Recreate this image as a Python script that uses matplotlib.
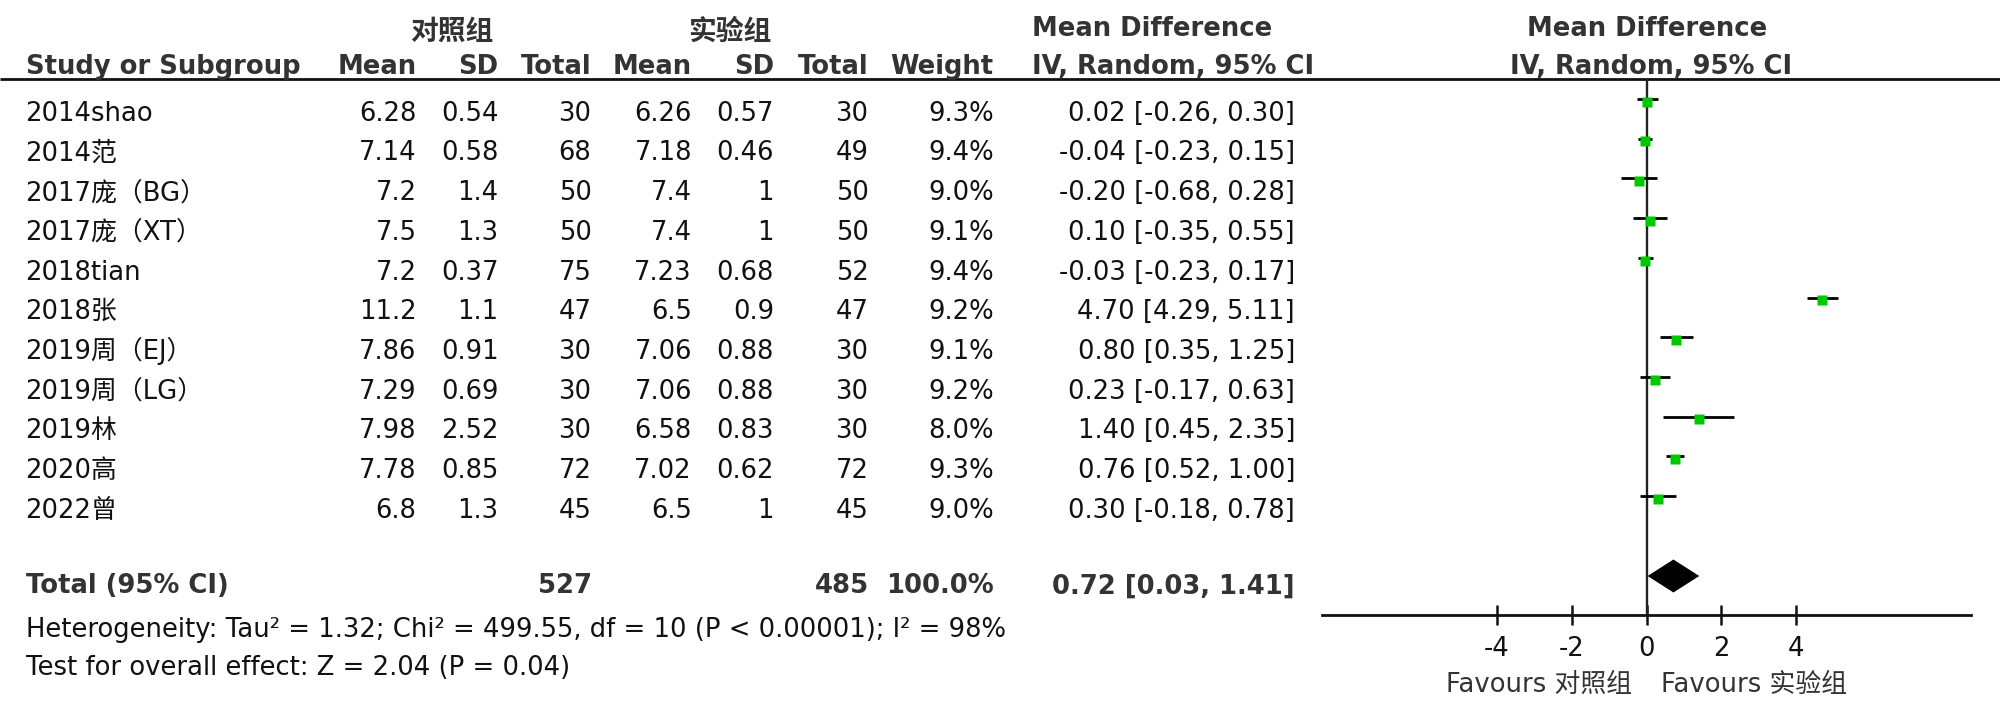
import matplotlib
matplotlib.use("Agg")
import matplotlib.pyplot as plt
import numpy as np

plt.rcParams['font.family'] = ['DejaVu Sans', 'Noto Sans CJK SC']
plt.rcParams['axes.unicode_minus'] = False

# ---------------- data ----------------
studies = ['2014shao', '2014范', '2017庞（BG）', '2017庞（XT）', '2018tian', '2018张',
           '2019周（EJ）', '2019周（LG）', '2019林', '2020高', '2022曾']
ctrl_mean = [6.28, 7.14, 7.2, 7.5, 7.2, 11.2, 7.86, 7.29, 7.98, 7.78, 6.8]
ctrl_sd = [0.54, 0.58, 1.4, 1.3, 0.37, 1.1, 0.91, 0.69, 2.52, 0.85, 1.3]
ctrl_n = [30, 68, 50, 50, 75, 47, 30, 30, 30, 72, 45]
exp_mean = [6.26, 7.18, 7.4, 7.4, 7.23, 6.5, 7.06, 7.06, 6.58, 7.02, 6.5]
exp_sd = [0.57, 0.46, 1, 1, 0.68, 0.9, 0.88, 0.88, 0.83, 0.62, 1]
exp_n = [30, 49, 50, 50, 52, 47, 30, 30, 30, 72, 45]
weight = [9.3, 9.4, 9.0, 9.1, 9.4, 9.2, 9.1, 9.2, 8.0, 9.3, 9.0]
md = [0.02, -0.04, -0.20, 0.10, -0.03, 4.70, 0.80, 0.23, 1.40, 0.76, 0.30]
ci_lo = [-0.26, -0.23, -0.68, -0.35, -0.23, 4.29, 0.35, -0.17, 0.45, 0.52, -0.18]
ci_hi = [0.30, 0.15, 0.28, 0.55, 0.17, 5.11, 1.25, 0.63, 2.35, 1.00, 0.78]
total_ctrl_n = 527
total_exp_n = 485
total_weight = 100.0
total_md, total_lo, total_hi = 0.72, 0.03, 1.41
group_ctrl = '对照组'
group_exp = '实验组'
heterogeneity = 'Heterogeneity: Tau² = 1.32; Chi² = 499.55, df = 10 (P < 0.00001); I² = 98%'
overall = 'Test for overall effect: Z = 2.04 (P = 0.04)'
xticks = [-4, -2, 0, 2, 4]

# ---------------- layout ----------------
W, H = 2000, 715
ROW0, ROWH = 99.0, 39.7          # pixel y of first study row, row pitch


def r(ypx):
    return (ypx - ROW0) / ROWH


FS = 18.6                         # pt
EM = FS * 100 / 72                # px
CAP = 0.729 * EM                  # cap height px


def bl(center_px):
    """baseline row-coordinate for a text whose cap-centre is at center_px"""
    return r(center_px + CAP / 2)


fig = plt.figure(figsize=(W / 100, H / 100), dpi=100)
fig.patch.set_facecolor('white')

ax = fig.add_axes([0, 0, 1, 1])
ax.set_xlim(0, W)
ax.set_ylim(r(H), r(0))
ax.axis('off')

TXT = '#111111'
HDR = '#333333'

# column right edges (px)
c_mean, c_sd, c_n = 416.5, 498.5, 591.5
e_mean, e_sd, e_n = 692.0, 774.0, 868.5
c_w, c_ci = 993.5, 1295.0
x_left = 25.5
x_ci_left = 1032.0

# headers
ax.text(452, r(40), group_ctrl, ha='center', va='baseline', fontsize=20,
        fontweight='bold', color=HDR, family=['Noto Sans CJK SC'])
ax.text(730, r(40), group_exp, ha='center', va='baseline', fontsize=20,
        fontweight='bold', color=HDR, family=['Noto Sans CJK SC'])
ax.text(x_ci_left, bl(26.7), 'Mean Difference', ha='left', va='baseline',
        fontsize=FS, fontweight='bold', color=HDR)
ax.text(1647, bl(26.7), 'Mean Difference', ha='center', va='baseline',
        fontsize=FS, fontweight='bold', color=HDR)

hy = bl(65.0)
ax.text(x_left, hy, 'Study or Subgroup', ha='left', va='baseline', fontsize=FS,
        fontweight='bold', color=HDR)
for x, s in [(c_mean, 'Mean'), (c_sd, 'SD'), (c_n, 'Total'), (e_mean, 'Mean'),
             (e_sd, 'SD'), (e_n, 'Total'), (c_w, 'Weight')]:
    ax.text(x, hy, s, ha='right', va='baseline', fontsize=FS, fontweight='bold', color=HDR)
ax.text(x_ci_left, hy, 'IV, Random, 95% CI', ha='left', va='baseline', fontsize=FS,
        fontweight='bold', color=HDR)
ax.text(1651, hy, 'IV, Random, 95% CI', ha='center', va='baseline', fontsize=FS,
        fontweight='bold', color=HDR)

ax.hlines(r(79), 0, W, color='#111111', lw=2.0)

# study rows
for i, name in enumerate(studies):
    y = bl(111.3) + i
    ax.text(x_left, y, name, ha='left', va='baseline', fontsize=FS, color=TXT)
    vals = [(c_mean, f'{ctrl_mean[i]:g}'), (c_sd, f'{ctrl_sd[i]:g}'), (c_n, f'{ctrl_n[i]}'),
            (e_mean, f'{exp_mean[i]:g}'), (e_sd, f'{exp_sd[i]:g}'), (e_n, f'{exp_n[i]}'),
            (c_w, f'{weight[i]:.1f}%'),
            (c_ci, f'{md[i]:.2f} [{ci_lo[i]:.2f}, {ci_hi[i]:.2f}]')]
    for x, s in vals:
        ax.text(x, y, s, ha='right', va='baseline', fontsize=FS, color=TXT)

# total row
ty = bl(584.0)
ax.text(x_left, ty, 'Total (95% CI)', ha='left', va='baseline', fontsize=FS,
        fontweight='bold', color=HDR)
ax.text(c_n, ty, f'{total_ctrl_n}', ha='right', va='baseline', fontsize=FS,
        fontweight='bold', color=HDR)
ax.text(e_n, ty, f'{total_exp_n}', ha='right', va='baseline', fontsize=FS,
        fontweight='bold', color=HDR)
ax.text(c_w, ty, f'{total_weight:.1f}%', ha='right', va='baseline', fontsize=FS,
        fontweight='bold', color=HDR)
ax.text(c_ci, ty, f'{total_md:.2f} [{total_lo:.2f}, {total_hi:.2f}]', ha='right',
        va='baseline', fontsize=FS, fontweight='bold', color=HDR)

ax.text(x_left, bl(628.0), heterogeneity, ha='left', va='baseline', fontsize=FS, color=TXT)
ax.text(x_left, bl(666.0), overall, ha='left', va='baseline', fontsize=FS, color=TXT)

# ---------------- forest plot ----------------
FX0, FX1 = 1321.7, 1971.3
XLIM = 8.68
axf = fig.add_axes([FX0 / W, 0, (FX1 - FX0) / W, 1])
axf.set_xlim(-XLIM, XLIM)
axf.set_ylim(r(H), r(0))
axf.patch.set_visible(False)
for s in ['top', 'left', 'right']:
    axf.spines[s].set_visible(False)
AXIS_Y = r(615)
axf.spines['bottom'].set_position(('data', AXIS_Y))
axf.spines['bottom'].set_linewidth(2.0)
axf.spines['bottom'].set_color('#111111')
axf.set_yticks([])
axf.set_xticks(xticks)
axf.set_xticklabels([f'{t:d}' for t in xticks])
axf.tick_params(axis='x', direction='inout', length=13.9, width=1.8, color='#111111',
                pad=8.5, labelsize=FS, labelcolor=TXT)

rows = np.arange(len(studies))
axf.vlines(0, r(79), AXIS_Y, color='#222222', lw=1.7)
axf.hlines(rows, ci_lo, ci_hi, color='black', lw=2.0)
axf.plot(md, rows + 0.07, 's', color='#00C800', ms=6.5, mec='none')

dy = 16.5 / ROWH
dc = r(576)
axf.fill([total_lo, total_md, total_hi, total_md], [dc, dc - dy, dc, dc + dy],
         color='black', lw=0)

axf.text(-0.38, bl(683.0), f'Favours {group_ctrl}', ha='right', va='baseline',
         fontsize=FS, color=HDR)
axf.text(0.38, bl(683.0), f'Favours {group_exp}', ha='left', va='baseline',
         fontsize=FS, color=HDR)

fig.savefig('out.png', dpi=100, facecolor='white')
